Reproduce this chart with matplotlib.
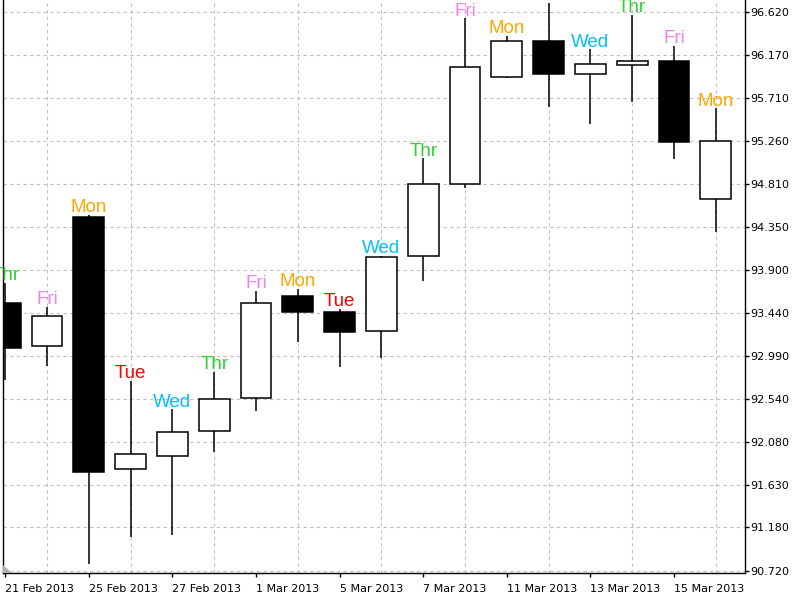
import matplotlib.pyplot as plt
from matplotlib.patches import Rectangle, Polygon

# daily bars, 21 Feb - 18 Mar 2013
dates = ['21 Feb 2013', '22 Feb 2013', '25 Feb 2013', '26 Feb 2013', '27 Feb 2013',
         '28 Feb 2013', '1 Mar 2013', '4 Mar 2013', '5 Mar 2013', '6 Mar 2013',
         '7 Mar 2013', '8 Mar 2013', '11 Mar 2013', '12 Mar 2013', '13 Mar 2013',
         '14 Mar 2013', '15 Mar 2013', '18 Mar 2013']
days = ['Thr', 'Fri', 'Mon', 'Tue', 'Wed', 'Thr', 'Fri', 'Mon', 'Tue', 'Wed',
        'Thr', 'Fri', 'Mon', 'Tue', 'Wed', 'Thr', 'Fri', 'Mon']
opens = [93.546, 93.095, 94.453, 91.797, 91.934, 92.201, 92.543, 93.626, 93.457,
         93.253, 94.040, 94.810, 95.937, 96.317, 95.966, 96.061, 96.106, 94.643]
highs = [93.760, 93.506, 94.477, 92.725, 92.427, 92.824, 93.679, 93.696, 93.485,
         94.045, 95.076, 96.554, 96.367, 96.715, 96.226, 96.588, 96.261, 95.604]
lows = [92.736, 92.884, 90.794, 91.076, 91.100, 91.973, 92.409, 93.134, 92.870,
        92.971, 93.784, 94.759, 95.920, 95.614, 95.438, 95.673, 95.065, 94.295]
closes = [93.077, 93.415, 91.768, 91.952, 92.187, 92.532, 93.554, 93.451, 93.246,
          94.037, 94.808, 96.036, 96.317, 95.966, 96.068, 96.106, 95.245, 95.262]

price_ticks = [90.720, 91.180, 91.630, 92.080, 92.540, 92.990, 93.440,
               93.900, 94.350, 94.810, 95.260, 95.710, 96.170, 96.620]

day_colors = {'Mon': '#FFA500', 'Tue': '#FF0000', 'Wed': '#00BFFF',
              'Thr': '#32CD32', 'Fri': '#EE82EE'}

fig = plt.figure(figsize=(8, 6), dpi=100)
ax = fig.add_axes([3 / 800, 27 / 600, 742 / 800, 573 / 600])

body_w = 0.74
for i in range(len(dates)):
    o, h, l, c = opens[i], highs[i], lows[i], closes[i]
    ax.plot([i, i], [l, h], color='black', lw=1.1, zorder=2, solid_capstyle='butt')
    face = 'white' if c >= o else 'black'
    ax.add_patch(Rectangle((i - body_w / 2, min(o, c)), body_w, abs(c - o),
                           facecolor=face, edgecolor='black', lw=1.1, zorder=3))
    ax.annotate(days[i], (i, h), xytext=(0, 2), textcoords='offset points',
                ha='center', va='baseline', color=day_colors[days[i]],
                fontsize=13.5, family='Liberation Sans', zorder=4)

ax.set_xlim(-0.0526, 17.699)
ax.set_ylim(90.699, 96.747)

ax.set_xticks(range(len(dates)), minor=True)
ax.set_xticks(range(0, len(dates), 2))
ax.set_xticklabels(dates[::2], ha='left', fontsize=8, family='DejaVu Sans')
ax.tick_params(axis='x', which='major', direction='out', length=3, width=1, pad=5)
ax.tick_params(axis='x', which='minor', length=0)

ax.yaxis.tick_right()
ax.set_yticks(price_ticks)
ax.set_yticklabels(['%.3f' % p for p in price_ticks], fontsize=8, family='DejaVu Sans')
ax.tick_params(axis='y', direction='out', length=3, width=1, pad=1)

ax.grid(True, which='minor', axis='x', color='#c0c0c0', ls=(0, (3, 3)), lw=0.8)
ax.grid(True, which='major', axis='y', color='#c0c0c0', ls=(0, (3, 3)), lw=0.8)
ax.set_axisbelow(True)

ax.spines['top'].set_visible(False)
for s in ['left', 'right', 'bottom']:
    ax.spines[s].set_color('black')
    ax.spines[s].set_linewidth(1)

# small shift marker in the lower left corner
ax.add_patch(Polygon([[0, 0], [0.012, 0], [0, 0.014]], closed=True,
                     transform=ax.transAxes, facecolor='#b0b0b0', edgecolor='none',
                     zorder=5, clip_on=False))

fig.savefig('out.png', dpi=100)
